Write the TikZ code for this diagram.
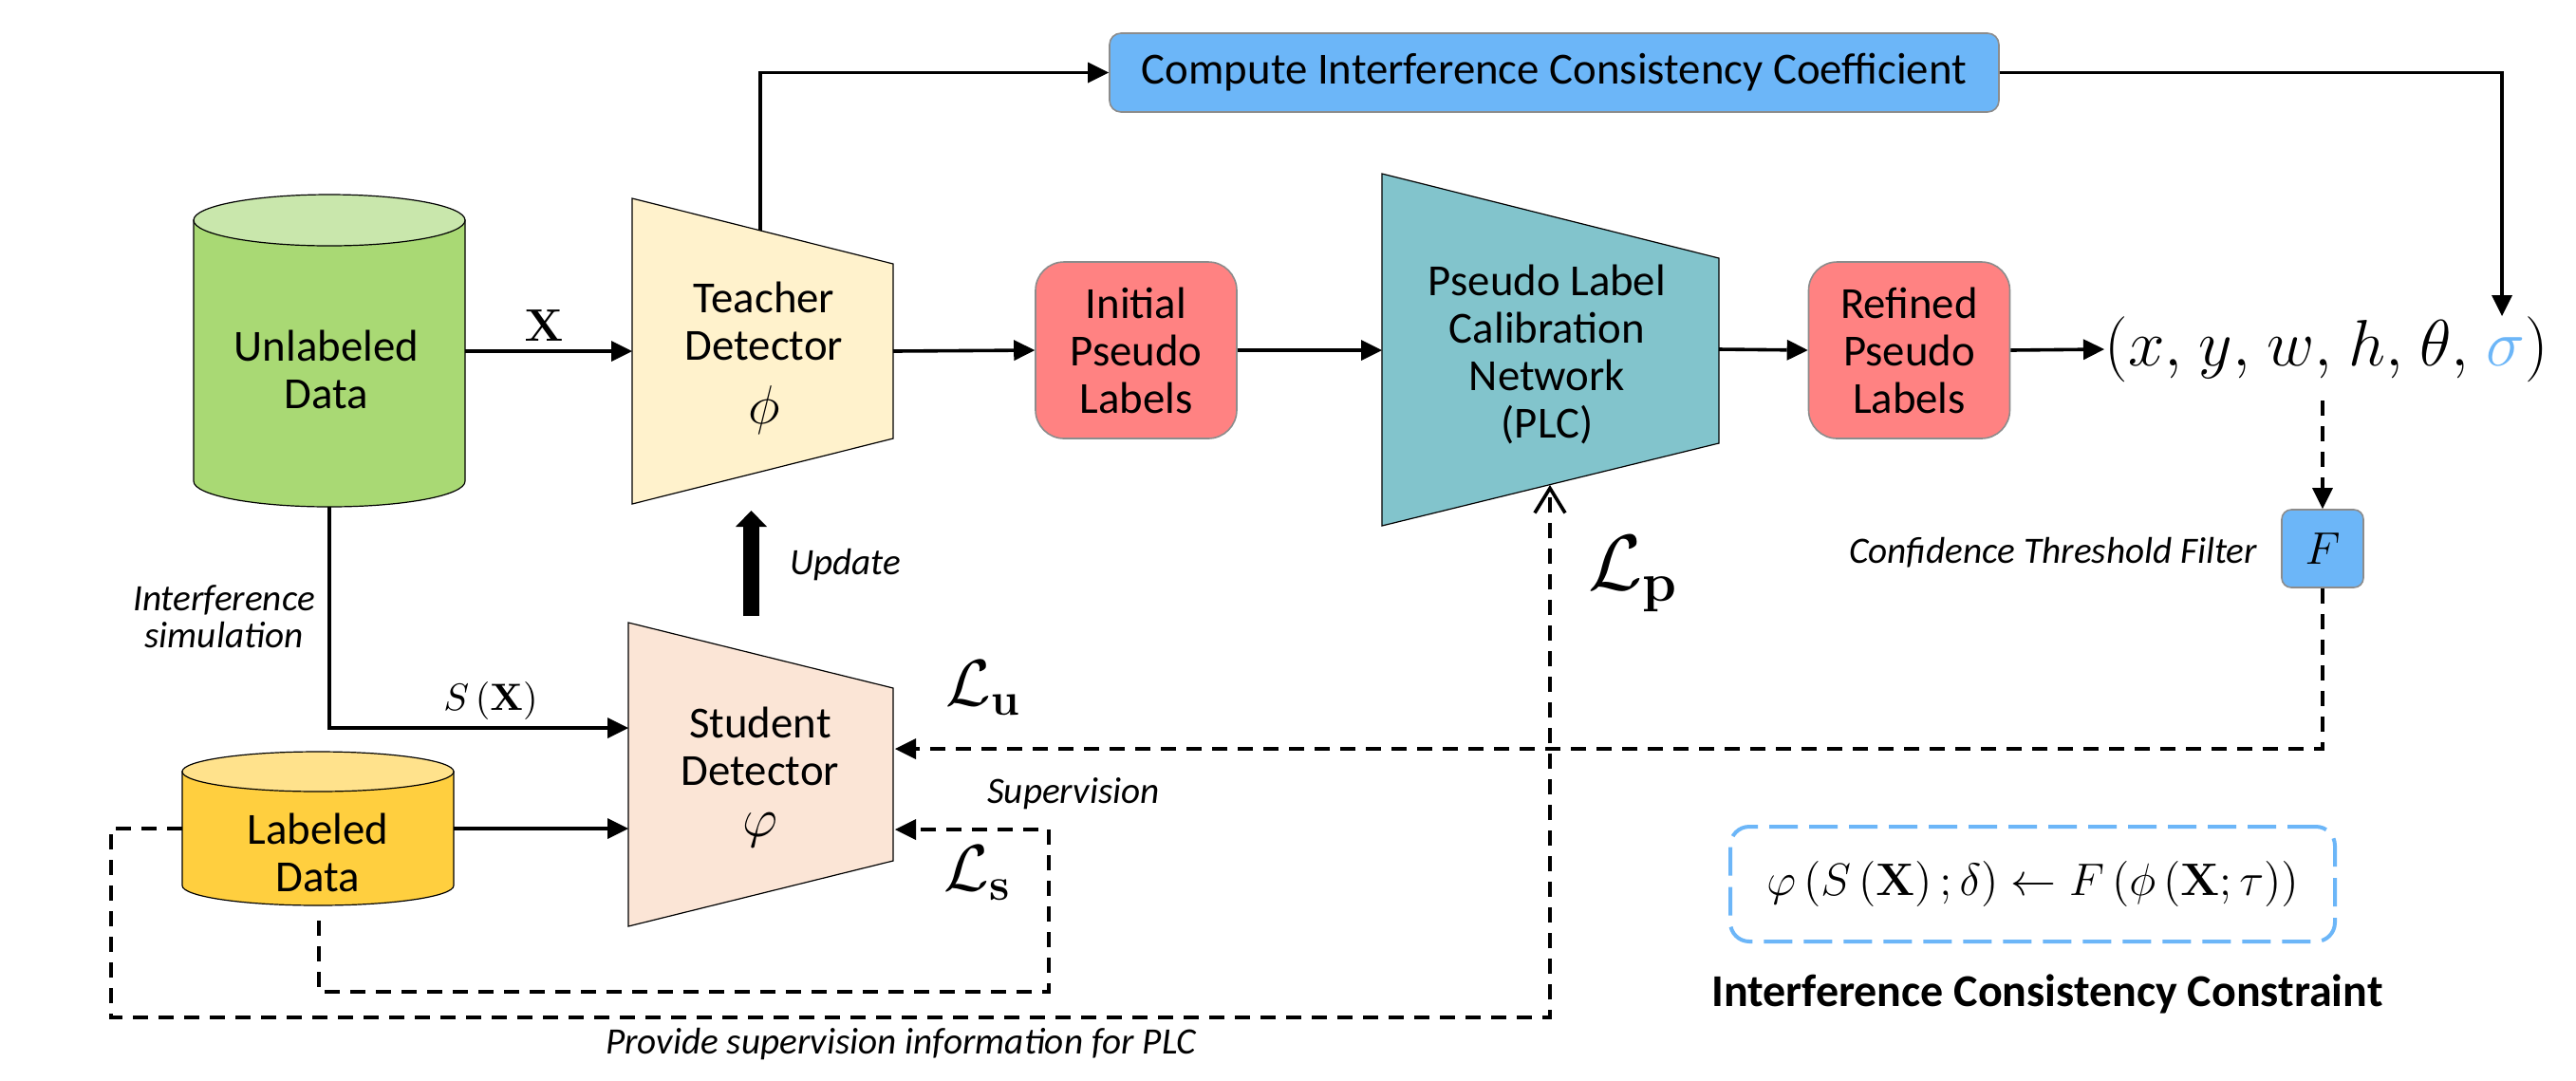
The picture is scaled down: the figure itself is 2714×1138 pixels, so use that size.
\documentclass[tikz,border=0pt]{standalone}
\usepackage[no-math]{fontspec}
\setmainfont{Carlito}
\usetikzlibrary{arrows.meta}
\definecolor{unlbody}{HTML}{A9D974}
\definecolor{unltop}{HTML}{C9E7AC}
\definecolor{labbody}{HTML}{FFCF3F}
\definecolor{labtop}{HTML}{FFE28C}
\definecolor{teachfill}{HTML}{FFF2CC}
\definecolor{studfill}{HTML}{FBE5D6}
\definecolor{plcfill}{HTML}{82C4CC}
\definecolor{redbox}{HTML}{FF8282}
\definecolor{bluebox}{HTML}{6CB6F8}
\begin{document}
\begin{tikzpicture}[x=0.25pt,y=-0.25pt,
  mainfont/.style={font=\fontsize{11.7}{12.5}\selectfont},
  itfont/.style={font=\fontsize{9.8}{9.8}\selectfont\itshape},
  shapeline/.style={draw=black, line width=0.3pt},
  rbox/.style={draw=black!45, line width=0.4pt, rounded corners=7.5pt, minimum width=53pt, minimum height=46.5pt, inner sep=0pt, fill=redbox, align=center, mainfont},
  bbox/.style={draw=black!45, line width=0.4pt, rounded corners=3pt, inner sep=0pt, fill=bluebox, mainfont},
  conn/.style={line width=0.9pt, -{Triangle[length=5.5pt,width=5.5pt,line width=0pt]}},
  plainline/.style={line width=0.9pt},
  dlink/.style={line width=0.9pt, dash pattern=on 4pt off 2.75pt},
  dconn/.style={dlink, -{Triangle[length=5.5pt,width=5.5pt,line width=0pt]}},
]
\fill[white] (0,0) rectangle (2714,1138);
\useasboundingbox (0,0) rectangle (2714,1138);

% ---- shapes ----
% Unlabeled cylinder
\path[shapeline, fill=unlbody] (204,232) -- (204,507) arc[start angle=180, end angle=0, x radius=143, y radius=27] -- (490,232) -- cycle;
\path[shapeline, fill=unltop] (347,232) ellipse [x radius=143, y radius=27];
% Labeled cylinder
\path[shapeline, fill=labbody] (192,813) -- (192,933) arc[start angle=180, end angle=0, x radius=143, y radius=21] -- (478,813) -- cycle;
\path[shapeline, fill=labtop] (335,813) ellipse [x radius=143, y radius=21];
% Teacher
\path[shapeline, fill=teachfill] (666,209) -- (941,278) -- (941,462) -- (666,531) -- cycle;
% Student
\path[shapeline, fill=studfill] (662,656) -- (941,725) -- (941,907) -- (662,976) -- cycle;
% PLC
\path[shapeline, fill=plcfill] (1456,183) -- (1811,272) -- (1811,467) -- (1456,554) -- cycle;

% ---- text nodes ----
\node[mainfont, align=center] (unl) at (344,389) {Unlabeled\\Data};
\node[mainfont, align=center] (lab) at (335,898) {Labeled\\Data};
\node[mainfont, align=center] (teacher) at (805,338) {Teacher\\Detector};
\node[font=\fontsize{15.5}{15.5}\selectfont] (phiT) at (805,432) {$\phi$};
\node[mainfont, align=center] (student) at (801,786) {Student\\Detector};
\node[font=\fontsize{15.5}{15.5}\selectfont] (phiS) at (801,875) {$\varphi$};
\node[mainfont, align=center] (plc) at (1630,373) {Pseudo Label\\Calibration\\Network\\(PLC)};
\node[rbox] (init) at (1197,369) {Initial\\Pseudo\\Labels};
\node[rbox] (refined) at (2011.5,369) {Refined\\Pseudo\\Labels};
\node[bbox, minimum width=234.25pt, minimum height=20.75pt] (compute) at (1637.5,76.5) {Compute Interference Consistency Coefficient};
\node[bbox, minimum width=21.5pt, minimum height=20.5pt, rounded corners=2.5pt, font=\fontsize{12}{12}\selectfont] (filt) at (2447,578) {$F$};
\node[anchor=west, inner sep=0pt, font=\fontsize{17.5}{17.5}\selectfont] (tuple) at (2217,368) {\makebox[116.75pt][s]{$(x,$\hfill$y,$\hfill$w,$\hfill$h,$\hfill$\theta,$\hfill${\color{bluebox}\sigma})$}};
\node[itfont, anchor=east, inner sep=0pt] (filtlab) at (2379,582) {Confidence Threshold Filter};

% ---- anchor coordinates ----
\coordinate (unlE) at (490,370);
\coordinate (unlS) at (347,534);
\coordinate (labE) at (478,873);
\coordinate (labW) at (192,873);
\coordinate (labS) at (336,970);
\coordinate (tW) at (666,370);
\coordinate (tE) at (941,370);
\coordinate (tN) at (801,243);
\coordinate (sW1) at (662,767);
\coordinate (sW2) at (662,873);
\coordinate (sE1) at (943,789);
\coordinate (sE2) at (943,874);
\coordinate (updS) at (791.5,649);
\coordinate (updN) at (791.5,538);
\coordinate (pW) at (1456,369);
\coordinate (pE) at (1811,368);
\coordinate (pS) at (1633,511);
\coordinate (sigmaN) at (2636,333);
\coordinate (tupleS) at (2447,422);
\coordinate (lsc) at (1105,1045);
\coordinate (outc) at (117,1072);

% ---- connectors ----
\draw[conn] (unlE) -- (tW);
\draw[conn] (tE) -- (init.west);
\draw[conn] (init.east) -- (pW);
\draw[conn] (pE) -- (refined.west);
\draw[conn] (refined.east) -- (tuple.west);
\draw[conn] (tN) |- (compute.west);
\draw[conn] (compute.east) -| (sigmaN);
\draw[conn] (unlS) |- (sW1);
\draw[conn] (labE) -- (sW2);
\draw[line width=4.25pt, -{Triangle[length=4.25pt,width=8.25pt,line width=0pt]}] (updS) -- (updN);
\draw[dconn] (tupleS) -- (filt.north);
\draw[dconn] (filt.south) |- (sE1);
\draw[dconn] (labS) |- (lsc) |- (sE2);
\draw[dlink, -{Straight Barb[length=6.5pt,width=8pt,line width=0.9pt]}] (labW) -| (outc) -| (pS);

% ---- labels ----
\node[font=\fontsize{11.5}{11.5}\selectfont] (xlab) at (573,343) {$\mathbf{X}$};
\node[font=\fontsize{10}{10}\selectfont] (sxlab) at (517,738) {$S\left(\mathbf{X}\right)$};
\node[itfont, align=center] (intsim) at (236,650) {Interference\\simulation};
\node[itfont, anchor=west] (updlab) at (818,595) {Update};
\node[font=\fontsize{17.5}{17.5}\selectfont] (lu) at (1036,725) {$\mathcal{L}_{\mathbf{u}}$};
\node[font=\fontsize{17.5}{17.5}\selectfont] (ls) at (1030,920) {$\mathcal{L}_{\mathbf{s}}$};
\node[font=\fontsize{21}{21}\selectfont] (lp) at (1721,605) {$\mathcal{L}_{\mathbf{p}}$};
\node[itfont] (suplab) at (1131,836) {Supervision};
\node[itfont] (provlab) at (949,1100) {Provide supervision information for PLC};
\node[draw=bluebox, line width=1pt, dash pattern=on 7.5pt off 3pt, rounded corners=5pt, minimum width=159.25pt, minimum height=30.25pt, inner sep=0pt, font=\fontsize{12.5}{12.5}\selectfont] (icc) at (2141.5,931.5) {$\varphi\left(S\left(\mathbf{X}\right);\delta\right)\leftarrow F\left(\phi\left(\mathbf{X};\tau\right)\right)$};
\node[font=\fontsize{12}{12}\selectfont\bfseries] (icclab) at (2157,1047) {Interference Consistency Constraint};
\end{tikzpicture}
\end{document}
